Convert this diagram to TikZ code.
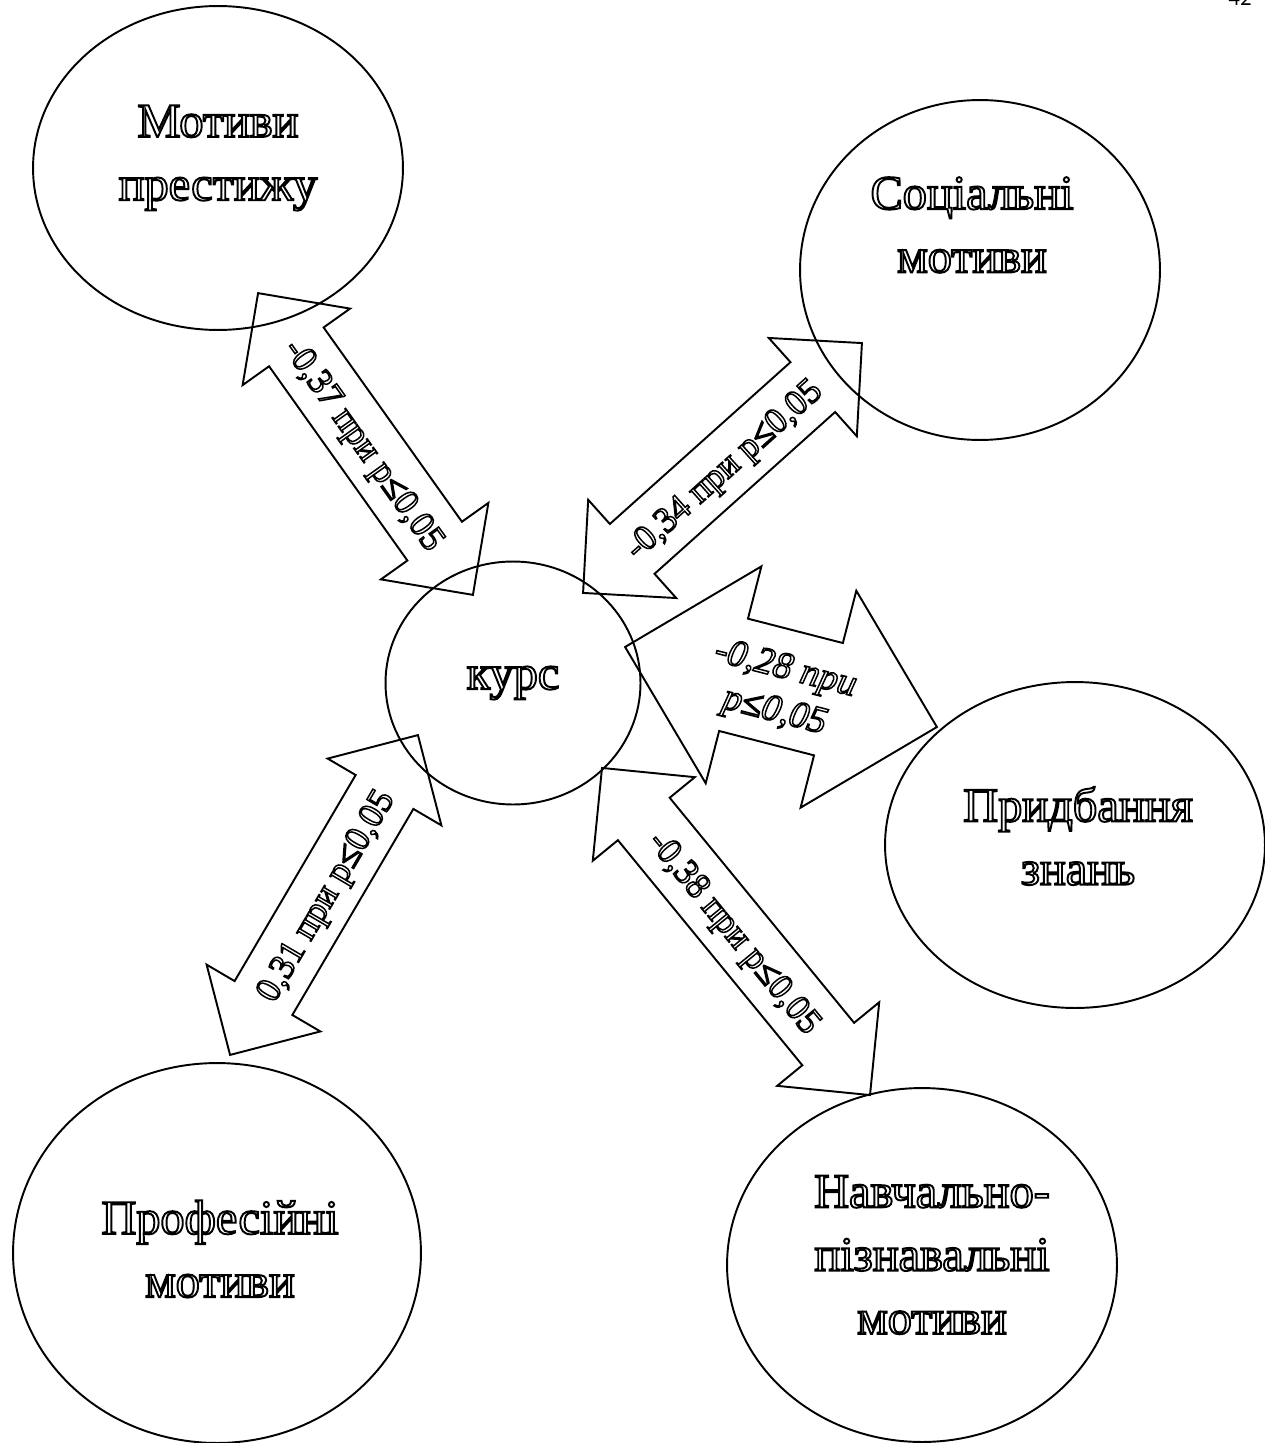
\documentclass[tikz,border=0pt]{standalone}
\usepackage{fontspec}
\setmainfont{Liberation Serif}
\newfontfamily\pagefont{Carlito}
\usetikzlibrary{shapes.geometric,shapes.arrows}
% outlined letters, as in the original figure
\newcommand{\hollow}[2][1.1]{\special{pdf:literal direct q 1 Tr #1 w}#2\special{pdf:literal direct Q}}
\newcommand{\albl}[1]{\makebox[0pt]{\hollow[0.85]{#1}}}

\begin{document}
\begin{tikzpicture}[x=0.02cm,y=-0.02cm,
  motive/.style={ellipse,draw,line width=1.1pt,inner sep=0pt},
  mtext/.style={align=center,font=\fontsize{27.5}{36}\selectfont},
  corrarrow/.style={double arrow,draw,line width=1.1pt,inner xsep=0pt,
    inner ysep=11.6pt,text height=13.8pt,text depth=0pt,
    double arrow head extend=0.65cm,align=center,
    font=\fontsize{20.5}{24}\selectfont}]
\useasboundingbox (0,0) rectangle (1264,1443);

% motives
\node[motive,minimum width=7.4cm,minimum height=6.48cm] (prestige) at (218,168) {};
\node[motive,minimum width=7.2cm,minimum height=6.8cm] (social) at (980,270) {};
\node[motive,minimum width=7.6cm,minimum height=6.52cm] (knowledge) at (1075,845) {};
\node[motive,minimum width=8.16cm,minimum height=7.6cm] (prof) at (217,1253) {};
\node[motive,minimum width=7.8cm,minimum height=7.08cm] (study) at (922,1265) {};
\node[motive,minimum width=5.1cm,minimum height=4.86cm,
  font=\fontsize{27.5}{36}\selectfont] (kurs) at (513,683) {\hollow{курс}};

\node[mtext] (prestigetxt) at (218,158) {\hollow{Мотиви}\\\hollow{престижу}};
\node[mtext] (socialtxt) at (972,225) {\hollow{Соціальні}\\\hollow{мотиви}};
\node[mtext] (knowledgetxt) at (1078,836) {\hollow{Придбання}\\\hollow{знань}};
\node[mtext] (proftxt) at (220,1249) {\hollow{Професійні}\\\hollow{мотиви}};
\node[mtext] (studytxt) at (932,1255) {\hollow{Навчально-}\\\hollow{пізнавальні}\\\hollow{мотиви}};

% correlations
\node[corrarrow,minimum height=7.41cm,rotate=-54.55] (a1) at (365.5,444)
  {\albl{-0,37 при p≤0,05}};
\node[corrarrow,minimum height=7.49cm,rotate=41.86] (a2) at (722.5,468)
  {\albl{-0,34 при p≤0,05}};
\node[corrarrow,minimum height=6.44cm,rotate=-14.4,inner ysep=12.6pt,
  text height=39.7pt,double arrow head extend=1.08cm,
  font=\fontsize{21.5}{25}\selectfont\itshape] (a3) at (781,687)
  {\albl{-0,28 при}\\\albl{p≤0,05}};
\node[corrarrow,minimum height=7.42cm,rotate=59.57] (a4) at (324,895)
  {\albl{0,31 при p≤0,05}};
\node[corrarrow,minimum height=8.46cm,rotate=-50.67] (a5) at (736,931.5)
  {\albl{-0,38 при p≤0,05}};

\node[font=\pagefont\fontsize{13}{15}\selectfont,anchor=base] (pagenum) at (1240,6) {42};
\end{tikzpicture}
\end{document}
